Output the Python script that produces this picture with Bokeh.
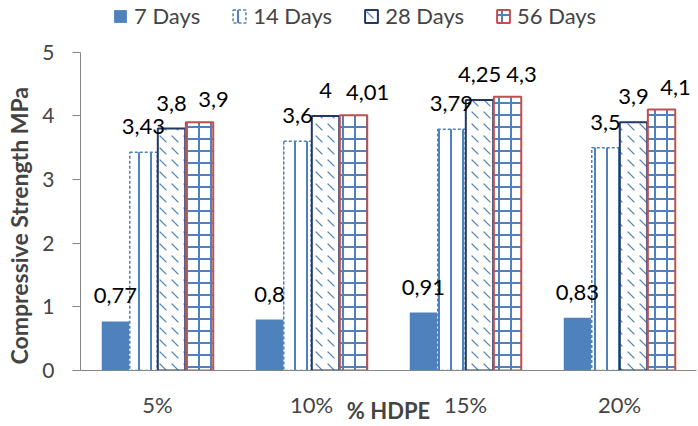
from bokeh.plotting import figure
from bokeh.models import ColumnDataSource, FactorRange, Legend, LegendItem, LabelSet, FixedTicker, Range1d
from bokeh.core.properties import value
from bokeh.transform import dodge
from bokeh.embed import file_html
from bokeh.resources import INLINE

# HDPE content and compressive strength (MPa) per curing age
categories = ["5%", "10%", "15%", "20%"]
days_7 = [0.77, 0.80, 0.91, 0.83]
days_14 = [3.43, 3.60, 3.79, 3.50]
days_28 = [3.80, 4.00, 4.25, 3.90]
days_56 = [3.90, 4.01, 4.30, 4.10]
series_names = ["7 Days", "14 Days", "28 Days", "56 Days"]
y_ticks = [0, 1, 2, 3, 4, 5]

FONT = "Lato"
BLUE = "#4f81bd"
NAVY = "#1f3864"
RED = "#c0504d"

def fmt(v):
    s = ("%.2f" % v).rstrip("0").rstrip(".")
    return s.replace(".", ",")

src = ColumnDataSource(dict(
    cat=categories,
    d7=days_7, d14=days_14, d28=days_28, d56=days_56,
    l7=[fmt(v) for v in days_7], l14=[fmt(v) for v in days_14],
    l28=[fmt(v) for v in days_28], l56=[fmt(v) for v in days_56],
))

# the frame reaches the top edge so the legend can sit above the 0-5 scale
p = figure(width=698, height=426, x_range=FactorRange(factors=categories),
           y_range=Range1d(0, 5.8125), output_backend="svg", toolbar_location=None,
           min_border_left=80, min_border_right=2, min_border_top=0,
           min_border_bottom=54)
p.outline_line_color = None
p.xgrid.visible = False
p.ygrid.visible = False

bw = 0.178
step = 0.182
offsets = [-1.5 * step, -0.5 * step, 0.5 * step, 1.5 * step]

styles = [
    dict(fill_color=BLUE, line_color=None),
    dict(fill_color="white", line_color=BLUE, line_width=1.5, line_dash="3 2",
         hatch_pattern="|", hatch_color=BLUE, hatch_scale=12, hatch_weight=2),
    dict(fill_color="white", line_color=NAVY, line_width=2,
         hatch_pattern="`", hatch_color=BLUE, hatch_scale=12, hatch_weight=1.2),
    dict(fill_color="white", line_color=RED, line_width=2,
         hatch_pattern="+", hatch_color=BLUE, hatch_scale=12, hatch_weight=2),
]
fields = ["d7", "d14", "d28", "d56"]
labels = ["l7", "l14", "l28", "l56"]
# the 56-day labels sit a little to the right so they clear the 28-day ones
label_shift = [(0, 18), (0, 18), (0, 18), (14, 15)]

items = []
for name, fld, lab, off, st, (dx, dy) in zip(series_names, fields, labels,
                                             offsets, styles, label_shift):
    xs = dodge("cat", off, range=p.x_range)
    r = p.vbar(x=xs, top=fld, width=bw, bottom=0, source=src, **st)
    items.append(LegendItem(label=name, renderers=[r]))
    p.add_layout(LabelSet(x=xs, y=fld, text=lab, source=src, text_align="center",
                          text_baseline="alphabetic", x_offset=dx, y_offset=dy,
                          text_font=value(FONT), text_font_size="22px",
                          text_color="black"))

legend = Legend(items=items, orientation="horizontal", location=(32, 341),
                glyph_width=16, glyph_height=16, label_standoff=6, spacing=31,
                label_text_font=FONT, label_text_font_size="22px",
                border_line_color=None, background_fill_alpha=0,
                padding=0, margin=0)
p.add_layout(legend, "center")

# y axis; trailing wide spaces move the centred title down along the 0-5 scale
yaxis = p.yaxis[0]
yaxis.ticker = FixedTicker(ticks=y_ticks)
yaxis.bounds = (0, 5)
yaxis.axis_line_color = "#868686"
yaxis.major_tick_line_color = "#868686"
yaxis.major_tick_out = 8
yaxis.major_tick_in = 0
yaxis.minor_tick_line_color = None
yaxis.major_label_standoff = 18
yaxis.major_label_text_font = FONT
yaxis.major_label_text_font_size = "21px"
yaxis.axis_label = "Compressive Strength MPa" + "\u2003" * 4 + "\u2002"
yaxis.axis_label_text_font = FONT
yaxis.axis_label_text_font_style = "bold"
yaxis.axis_label_text_font_size = "23px"
yaxis.axis_label_standoff = 6

# x axis
p.xaxis.axis_line_color = "#868686"
p.xaxis.major_tick_line_color = None
p.xaxis.minor_tick_line_color = None
p.xaxis.major_label_standoff = 14
p.xaxis.major_label_text_font = FONT
p.xaxis.major_label_text_font_size = "22px"
p.xaxis.axis_label = "% HDPE"
p.xaxis.axis_label_text_font = FONT
p.xaxis.axis_label_text_font_style = "bold"
p.xaxis.axis_label_text_font_size = "22px"
p.xaxis.axis_label_standoff = -24

open("out.html", "w").write(file_html(p, INLINE))
